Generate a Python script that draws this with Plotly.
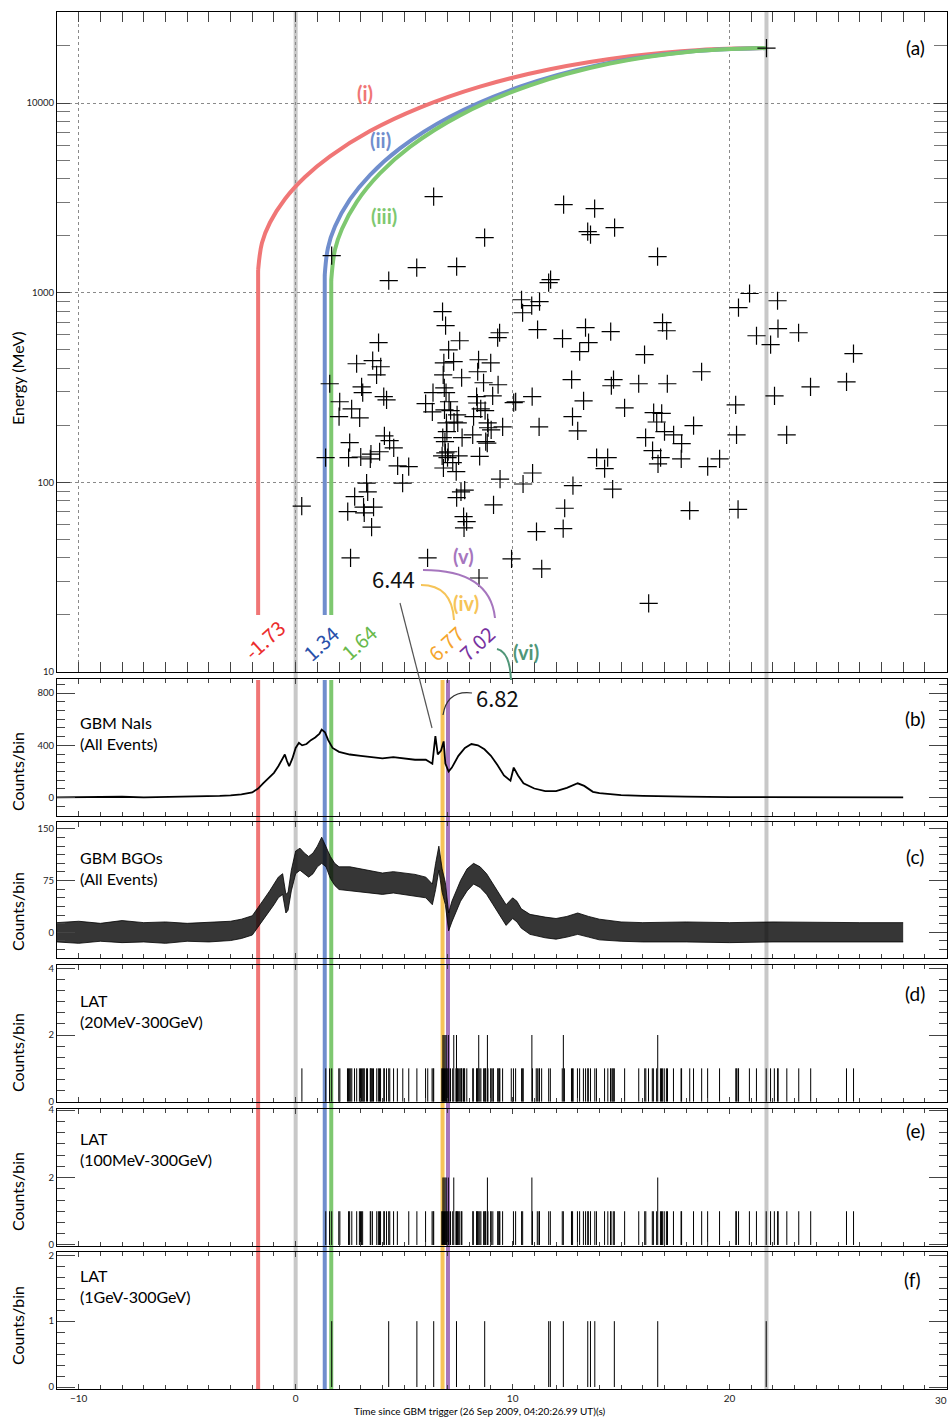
import numpy as np
import plotly.graph_objects as go

# ------------------------------------------------------------------ data
# LAT photons: arrival time (s) and energy (MeV)
LAT_T = [0.28, 1.66, 5.58, 4.29, 6.36, 8.71, 7.42, 6.77, 6.91, 7.56, 7.05, 9.40, 9.31, 3.82, 2.81,
         3.55, 3.92, 3.73, 6.83, 7.28, 8.43, 8.99, 8.39, 6.80, 7.65, 1.57, 3.04, 3.09, 4.06, 4.19,
         2.03, 2.58, 2.00, 2.95, 2.49, 2.44, 3.00, 3.47, 3.44, 3.87, 4.09, 4.33, 4.52, 4.70, 5.21,
         4.93, 1.38, 3.27, 3.32, 2.72, 3.59, 3.13, 2.40, 3.16, 3.50, 2.53, 6.08, 9.95, 8.45, 8.66,
         9.33, 6.85, 6.33, 6.93, 8.34, 9.08, 10.14, 7.07, 5.99, 6.86, 7.14, 6.30, 8.37, 8.53, 8.73,
         8.20, 7.44, 7.30, 7.47, 6.95, 8.85, 8.87, 9.01, 9.54, 8.16, 7.67, 6.97, 6.78, 6.88, 8.76,
         8.83, 7.03, 6.90, 6.75, 7.51, 7.00, 8.48, 7.24, 6.81, 7.40, 9.42, 7.79, 7.62, 7.42, 9.12,
         7.74, 7.88, 7.76, 12.35, 13.78, 13.46, 13.59, 14.70, 16.68, 11.75, 11.66, 10.41, 10.88, 11.24,
         10.46, 11.15, 13.36, 14.52, 12.30, 13.50, 13.09, 16.91, 17.10, 16.08, 18.71, 12.72, 14.65, 14.55,
         15.81, 17.13, 10.90, 10.05, 13.27, 15.16, 12.76, 16.50, 16.87, 16.64, 11.22, 13.00, 18.34, 16.13,
         17.00, 17.42, 17.79, 16.45, 16.82, 16.70, 17.77, 18.99, 19.54, 13.87, 14.38, 14.24, 10.92, 10.48,
         12.78, 14.61, 12.40, 18.16, 11.10, 12.33, 11.34, 16.27, 20.41, 20.92, 22.21, 21.24, 21.89, 22.23,
         23.18, 25.71, 20.28, 22.07, 23.73, 25.39, 22.63, 20.32, 20.39, 21.70]
LAT_E = [75, 1570, 1355, 1157, 3210, 1950, 1371, 794, 670, 558, 500, 615, 579, 545, 422,
         438, 407, 369, 427, 433, 443, 427, 383, 369, 356, 331, 319, 297, 283, 272,
         266, 244, 222, 219, 162, 135, 136, 141, 133, 145, 176, 166, 152, 122, 121,
         99, 135, 99, 89, 84, 74, 74, 70, 69, 58, 40, 40, 39.5, 31.3, 335,
         327, 315, 297, 297, 283, 286, 266, 266, 260, 241, 239, 235, 262, 244, 239,
         222, 227, 208, 206, 206, 206, 194, 189, 196, 178, 172, 185, 172, 164, 164,
         161, 145, 143, 138, 138, 135, 137, 127, 119, 114, 104, 91, 89, 83, 76,
         66, 62, 57.5, 2912, 2775, 2098, 2024, 2203, 1549, 1171, 1129, 918, 854, 897,
         784, 638, 654, 623, 572, 545, 489, 695, 630, 471, 383, 348, 348, 323,
         331, 331, 283, 263, 269, 247, 222, 233, 231, 208, 196, 187, 199, 172,
         185, 178, 160, 147, 135, 125, 133, 121, 133, 135, 135, 118, 112, 98,
         96, 92, 73, 71, 55, 57, 35, 23, 834, 990, 907, 593, 532, 646,
         615, 477, 256, 286, 319, 339, 178, 178, 72, 19500]

# model curves (time s, energy MeV); first two points = vertical stem
CURVE_I_T = [-1.73, -1.73, -1.555, -1.184, -0.493, 0.429, 1.581, 3.424, 5.728, 8.493, 11.72, 15.41, 18.63, 21.70]
CURVE_I_E = [20, 1317, 1828, 2345, 3122, 4076, 5236, 7112, 9456, 12200, 15070, 17650, 19050, 19500]
CURVE_II_T = [1.34, 1.34, 1.488, 1.81, 2.502, 3.424, 4.806, 7.11, 10.34, 14.02, 17.71, 21.70]
CURVE_II_E = [20, 1239, 1724, 2233, 3102, 4173, 5771, 8469, 12190, 15920, 18480, 19500]
CURVE_III_T = [1.64, 1.64, 1.81, 2.133, 2.824, 3.884, 5.267, 7.571, 10.80, 14.48, 18.16, 21.70]
CURVE_III_E = [20, 1166, 1683, 2168, 3024, 4255, 5870, 8610, 12400, 16150, 18660, 19500]

# GBM NaI light curve (counts/bin)
NAI_T = [-11, -10, -9, -8, -7, -6, -5, -4, -3.5, -3, -2.5, -2, -1.73, -1.5, -1.2, -1.0, -0.8, -0.6,
         -0.5, -0.4, -0.3, -0.15, 0, 0.15, 0.3, 0.5, 0.7, 0.9, 1.1, 1.2, 1.35, 1.5, 1.7, 2.0, 2.5,
         3.0, 3.5, 4.0, 4.5, 5.0, 5.5, 6.0, 6.3, 6.44, 6.55, 6.7, 6.82, 6.9, 7.05, 7.2, 7.5, 7.8,
         8.1, 8.4, 8.7, 9.0, 9.3, 9.6, 9.9, 10.05, 10.25, 10.5, 11, 11.5, 12, 12.5, 13, 13.3, 13.7,
         14, 15, 16, 17, 18, 20, 22, 24, 26, 28]
NAI_C = [3, 6, 4, 7, 3, 5, 6, 10, 14, 18, 25, 40, 70, 110, 160, 190, 240, 300,
         330, 280, 240, 300, 380, 420, 400, 410, 440, 460, 490, 520, 500, 440, 380, 350, 330,
         320, 310, 300, 310, 300, 290, 290, 260, 470, 330, 360, 430, 260, 200, 230, 320, 380,
         410, 400, 370, 320, 250, 170, 130, 230, 170, 110, 70, 50, 50, 75, 110, 90, 45,
         35, 20, 14, 10, 8, 5, 5, 4, 4, 3]

# GBM BGO light curve: lower / upper envelope of the noisy trace (counts/bin)
BGO_T = [-11, -10, -9, -8, -7, -6, -5, -4, -3, -2.5, -2, -1.73, -1.5, -1.2, -1.0, -0.8, -0.6, -0.45,
         -0.35, -0.2, 0, 0.2, 0.4, 0.6, 0.8, 1.0, 1.2, 1.4, 1.6, 1.8, 2.0, 2.5, 3, 3.5, 4, 4.5, 5,
         5.5, 6, 6.3, 6.45, 6.6, 6.75, 6.9, 7.05, 7.2, 7.4, 7.6, 7.9, 8.2, 8.5, 8.8, 9.1, 9.4, 9.7,
         10.0, 10.2, 10.4, 10.8, 11.5, 12, 12.5, 13, 13.5, 14, 15, 16, 18, 20, 22, 24, 26, 28]
BGO_LO = [-14, -16, -13, -15, -14, -16, -13, -14, -12, -9, -4, 8, 18, 30, 40, 50, 55, 28,
          32, 60, 85, 90, 85, 80, 85, 95, 100, 95, 78, 68, 62, 60, 58, 56, 55, 57, 55,
          53, 50, 40, 62, 90, 58, 40, 2, 15, 30, 45, 60, 70, 65, 55, 40, 25, 10,
          20, 15, 6, -3, -8, -10, -7, -3, -7, -11, -13, -14, -14, -15, -14, -14, -15, -14]
BGO_HI = [14, 16, 13, 17, 14, 15, 13, 15, 16, 19, 24, 36, 46, 60, 70, 80, 85, 55,
          58, 90, 118, 122, 115, 110, 115, 125, 138, 125, 110, 100, 95, 95, 92, 90, 86, 88, 86,
          84, 80, 70, 100, 125, 92, 72, 28, 45, 60, 75, 92, 100, 95, 85, 70, 55, 40,
          50, 45, 34, 26, 22, 20, 23, 28, 23, 19, 15, 14, 15, 14, 15, 14, 14, 14]

# reference times (s)
T_TRIGGER = 0.0
T_MAXPHOTON = 21.70
T_I, T_II, T_III = -1.73, 1.34, 1.64
T_IV, T_V = 6.77, 7.02

LAT_BIN = 0.025
E_BANDS = [20, 100, 1000]
PANEL_TAGS = ["(a)", "(b)", "(c)", "(d)", "(e)", "(f)"]

# ------------------------------------------------------------------ layout helpers
W, H = 950, 1418
ML, MR, MT, MB = 57, 3, 12, 29
PW, PH = W - ML - MR, H - MT - MB


def px(x):
    return (x - ML) / PW


def py(y):
    return (H - MB - y) / PH


PANEL_PX = [(12, 672), (679, 816), (822, 958), (965, 1102), (1109, 1246), (1252, 1389)]
DOMAINS = [[py(b), py(t)] for (t, b) in PANEL_PX]

RED = "rgb(240,118,118)"
BLUE = "rgb(112,142,205)"
GREEN = "rgb(126,200,112)"
YELLOW = "rgb(246,196,88)"
PURPLE = "rgb(166,118,190)"
GRAY = "rgb(200,200,200)"
FONT = "Lato, 'Open Sans', sans-serif"
CJK = "'Noto Sans CJK JP', sans-serif"

fig = go.Figure()

# ---- panel (a)
for ts, es, col in [(CURVE_I_T, CURVE_I_E, RED), (CURVE_II_T, CURVE_II_E, BLUE),
                    (CURVE_III_T, CURVE_III_E, GREEN)]:
    fig.add_trace(go.Scatter(x=ts[:2], y=es[:2], mode="lines", line=dict(color=col, width=4),
                             xaxis="x", yaxis="y", showlegend=False, hoverinfo="skip"))
    fig.add_trace(go.Scatter(x=ts[1:], y=es[1:], mode="lines",
                             line=dict(color=col, width=4, shape="spline", smoothing=1.0),
                             xaxis="x", yaxis="y", showlegend=False, hoverinfo="skip"))
fig.add_trace(go.Scatter(x=LAT_T, y=LAT_E, mode="markers",
                         marker=dict(symbol="cross-thin", size=13, line=dict(color="black", width=1.2)),
                         xaxis="x", yaxis="y", showlegend=False))

# ---- panel (b)
fig.add_trace(go.Scatter(x=NAI_T, y=NAI_C, mode="lines", line=dict(color="black", width=1.8),
                         xaxis="x2", yaxis="y2", showlegend=False))
# ---- panel (c)
fig.add_trace(go.Scatter(x=BGO_T, y=BGO_LO, mode="lines", line=dict(color="black", width=0.8),
                         xaxis="x3", yaxis="y3", showlegend=False))
fig.add_trace(go.Scatter(x=BGO_T, y=BGO_HI, mode="lines", line=dict(color="black", width=0.8),
                         fill="tonexty", fillcolor="rgba(10,10,10,0.82)",
                         xaxis="x3", yaxis="y3", showlegend=False))

# ---- panels (d)(e)(f): LAT count histograms
t_arr = np.array(LAT_T)
e_arr = np.array(LAT_E)
edges = np.arange(-11.0, 30.0 + LAT_BIN, LAT_BIN)
centres = 0.5 * (edges[:-1] + edges[1:])
for k, emin in enumerate(E_BANDS):
    counts, _ = np.histogram(t_arr[e_arr >= emin], bins=edges)
    xs, ys = [], []
    for c, n in zip(centres, counts):
        if n > 0:
            xs += [c, c, None]
            ys += [0, int(n), None]
    fig.add_trace(go.Scatter(x=xs, y=ys, mode="lines", line=dict(color="black", width=1),
                             xaxis=f"x{k + 4}", yaxis=f"y{k + 4}", showlegend=False, hoverinfo="skip"))

# ------------------------------------------------------------------ axes
tickc = "#444"
for i in range(6):
    n = "" if i == 0 else str(i + 1)
    xa = dict(domain=[0, 1], range=[-11.0, 30.02], anchor=f"y{n}", showline=True, linecolor="black",
              linewidth=1, mirror="allticks", ticks="inside", tickcolor=tickc, tick0=0, dtick=10,
              ticklen=10 if i == 0 else 5, zeroline=False, showticklabels=(i == 5), automargin=False,
              tickfont=dict(family=FONT, size=10, color="#222"),
              minor=dict(dtick=1, tick0=0, ticks="inside", ticklen=10 if i == 0 else 4, tickcolor=tickc),
              showgrid=(i == 0), gridcolor="#8a8a8a", griddash="dot", gridwidth=1)
    if i > 0:
        xa["matches"] = "x"
    fig.layout[f"xaxis{n}"] = xa

ya_common = dict(showline=True, linecolor="black", linewidth=1, mirror="allticks", ticks="inside",
                 tickcolor=tickc, zeroline=False, automargin=False,
                 tickfont=dict(family=FONT, size=9.5, color="#222"))
minor_log = [m * 10 ** d for d in range(1, 5) for m in range(2, 10)]
fig.layout["yaxis"] = dict(ya_common, domain=DOMAINS[0], anchor="x", type="log", range=[1, 4.48],
                           tickmode="array", tickvals=[10, 100, 1000, 10000],
                           ticktext=["10", "100", "1000", "10000"], ticklen=13,
                           minor=dict(tickmode="array", tickvals=minor_log, ticks="inside", ticklen=13,
                                      tickcolor="#777"),
                           showgrid=True, gridcolor="#8a8a8a", griddash="dot", gridwidth=1)
specs = [([-140, 907], [0, 400, 800], 400 / 6),
         ([-37.3, 160], [0, 75, 150], 12.5),
         ([-0.01, 4.1], [0, 2, 4], 1 / 3),
         ([-0.03, 4.03], [0, 2, 4], 1 / 3),
         ([-0.03, 2.05], [0, 1, 2], 1 / 6)]
for i, (rng, tv, md) in enumerate(specs):
    n = str(i + 2)
    fig.layout[f"yaxis{n}"] = dict(ya_common, domain=DOMAINS[i + 1], anchor=f"x{n}", range=rng,
                                   tickmode="array", tickvals=tv, ticklen=18, showgrid=False,
                                   minor=dict(dtick=md, tick0=0, ticks="inside", ticklen=8, tickcolor=tickc))

# ------------------------------------------------------------------ vertical reference lines
shapes = []
for t in [T_TRIGGER, T_MAXPHOTON]:
    shapes.append(dict(type="line", xref="x", yref="paper", x0=t, x1=t, y0=0, y1=1,
                       line=dict(color=GRAY, width=4), layer="below"))
for t, col in [(T_I, RED), (T_II, BLUE), (T_III, GREEN), (T_IV, YELLOW), (T_V, PURPLE)]:
    shapes.append(dict(type="line", xref="x", yref="paper", x0=t, x1=t, y0=0, y1=py(680),
                       line=dict(color=col, width=4), layer="below"))


def qpath(p0, c, p1):
    return f"M {px(p0[0])},{py(p0[1])} Q {px(c[0])},{py(c[1])} {px(p1[0])},{py(p1[1])}"


for p0, c, p1, col, w in [((423, 570), (490, 570), (495, 618), PURPLE, 2),
                          ((421, 585), (452, 585), (454, 620), YELLOW, 2),
                          ((497, 649), (510, 652), (511, 680), "rgb(80,150,120)", 2),
                          ((472, 693), (447, 690), (443, 715), "#333", 1.2)]:
    shapes.append(dict(type="path", xref="paper", yref="paper", path=qpath(p0, c, p1),
                       line=dict(color=col, width=w)))
shapes.append(dict(type="line", xref="paper", yref="paper", x0=px(400), y0=py(603), x1=px(432), y1=py(728),
                   line=dict(color="#555", width=1.2)))

# ------------------------------------------------------------------ annotations
ann = []


def text(x, y, s, size, color="black", family=FONT, angle=0, xanchor="center", yanchor="middle",
         align="center", bold=False):
    if bold:
        s = f"<b>{s}</b>"
    ann.append(dict(x=px(x), y=py(y), xref="paper", yref="paper", text=s, showarrow=False,
                    font=dict(size=size, color=color, family=family), textangle=angle,
                    xanchor=xanchor, yanchor=yanchor, align=align))


for tag, (x, y) in zip(PANEL_TAGS, [(915, 47), (915, 718), (915, 857), (915, 993), (915, 1130), (912, 1279)]):
    text(x, y, tag, 19)

text(17, 378, "Energy (MeV)", 16, angle=-90)
for y in [772, 912, 1053, 1192, 1326]:
    text(17, y, "Counts/bin", 16, angle=-90)

for y0, s in [(711, "GBM NaIs<br>(All Events)"), (846, "GBM BGOs<br>(All Events)"),
              (989, "LAT<br>(20MeV-300GeV)"), (1127, "LAT<br>(100MeV-300GeV)"),
              (1264, "LAT<br>(1GeV-300GeV)")]:
    text(78, y0, s, 16, xanchor="left", yanchor="top", align="left")

text(480, 1411, "Time since GBM trigger (26 Sep 2009, 04:20:26.99 UT)(s)", 10)
# last x tick label, kept just inside the right edge of the figure
text(949, 1400, "30", 10, "#222", xanchor="right")

text(365, 93, "(i)", 20, RED, bold=True)
text(380, 140, "(ii)", 20, BLUE, bold=True)
text(384, 216, "(iii)", 20, GREEN, bold=True)
text(463, 556, "(v)", 20, PURPLE, bold=True)
text(466, 603, "(iv)", 20, YELLOW, bold=True)
text(526, 652, "(vi)", 20, "rgb(80,150,120)", bold=True)

text(393, 578, "6.44", 22, "#111", family=CJK)
text(497, 697, "6.82", 22, "#111", family=CJK)
text(264, 639, "-1.73", 20, "rgb(235,45,45)", family=CJK, angle=-42)
text(320, 643, "1.34", 20, "rgb(40,80,170)", family=CJK, angle=-42)
text(358, 642, "1.64", 20, "rgb(105,185,75)", family=CJK, angle=-42)
text(445, 643, "6.77", 20, "rgb(245,165,45)", family=CJK, angle=-42)
text(476, 643, "7.02", 20, "rgb(120,50,160)", family=CJK, angle=-42)

fig.update_layout(width=W, height=H, margin=dict(l=ML, r=MR, t=MT, b=MB, autoexpand=False),
                  paper_bgcolor="white", plot_bgcolor="rgba(0,0,0,0)",
                  shapes=shapes, annotations=ann, showlegend=False,
                  font=dict(family=FONT, color="black"))

fig.write_html("out.html", config={"displayModeBar": False, "staticPlot": True},
               post_script="document.body.style.margin='0';document.body.style.padding='0';"
                           "document.body.style.overflow='hidden';")
